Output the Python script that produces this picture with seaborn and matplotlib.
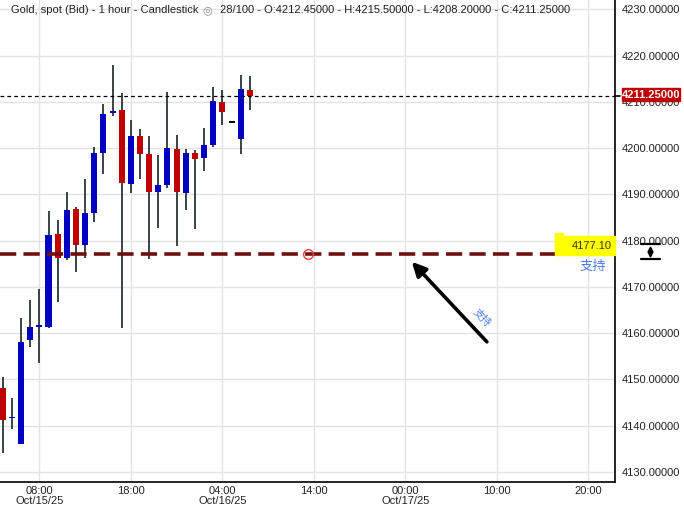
import matplotlib
matplotlib.use("Agg")
import matplotlib.pyplot as plt
import numpy as np
import pandas as pd
import seaborn as sns
from matplotlib.lines import Line2D
from matplotlib.patches import Rectangle

# hourly candles, hour index counted from Oct/15/25 00:00
hours = list(range(4, 32))
opens = [4148.2, 4141.6, 4136.1, 4158.4, 4161.4, 4161.4, 4181.4, 4176.3, 4186.8, 4179.1,
         4186.0, 4199.0, 4207.6, 4208.2, 4192.3, 4202.6, 4198.7, 4190.6, 4192.1, 4199.8,
         4190.3, 4198.9, 4197.9, 4200.7, 4209.9, 4205.4, 4201.9, 4212.45]
highs = [4150.5, 4146.0, 4163.3, 4167.2, 4169.5, 4186.4, 4184.4, 4190.5, 4187.3, 4193.3,
         4200.2, 4209.6, 4217.9, 4211.8, 4206.0, 4204.1, 4202.6, 4198.5, 4212.1, 4202.8,
         4199.8, 4199.6, 4204.4, 4213.2, 4212.5, 4205.4, 4215.8, 4215.50]
lows = [4134.1, 4139.2, 4136.0, 4156.9, 4153.6, 4161.0, 4166.8, 4175.7, 4173.1, 4176.3,
        4183.9, 4194.4, 4207.0, 4161.2, 4190.2, 4193.4, 4176.1, 4182.8, 4191.4, 4178.9,
        4186.5, 4182.6, 4195.1, 4200.3, 4205.0, 4205.4, 4198.6, 4208.20]
closes = [4141.3, 4141.9, 4158.1, 4161.3, 4161.7, 4181.2, 4176.3, 4186.6, 4179.1, 4186.0,
          4199.0, 4207.3, 4208.0, 4192.4, 4202.6, 4198.6, 4190.6, 4192.0, 4200.0, 4190.6,
          4198.9, 4197.7, 4200.6, 4210.2, 4207.8, 4205.4, 4212.7, 4211.25]

tick_hours = [8, 18, 28, 38, 48, 58, 68]
tick_labels = ["08:00\nOct/15/25", "18:00", "04:00\nOct/16/25", "14:00",
               "00:00\nOct/17/25", "10:00", "20:00"]
y_ticks = list(range(4130, 4231, 10))

support_level = 4177.10
last_price = 4211.25
marker_hour = 37.3
arrow_tail = (56.9, 4158.1)
arrow_head = (48.7, 4175.4)

df = pd.DataFrame({"hour": hours, "open": opens, "high": highs,
                   "low": lows, "close": closes})
df["color"] = np.where(df["close"] > df["open"], "#0000c0",
                       np.where(df["close"] < df["open"], "#c00000", "#000000"))
df["bottom"] = df[["open", "close"]].min(axis=1)
df["height"] = (df["close"] - df["open"]).abs().clip(lower=0.35)

sns.set_theme(style="whitegrid")
plt.rcParams["font.family"] = ["Liberation Sans", "Noto Sans CJK SC", "DejaVu Sans"]

fig = plt.figure(figsize=(6.84, 5.07), dpi=100)
W, H = 684, 507
ax = fig.add_axes([0, 25 / H, 615 / W, 482 / H])
ax.set_facecolor("white")

# wicks and bodies
ax.vlines(df["hour"], df["low"], df["high"], color="#2a3535", lw=1.3, zorder=2)
ax.bar(df["hour"], df["height"], bottom=df["bottom"], width=0.66,
       color=df["color"], linewidth=0, zorder=3)

# support line + last price line
ax.axhline(support_level, color="#6e1010", lw=2.6, ls=(0, (4.5, 2)), zorder=4)
ax.axhline(last_price, color="black", lw=0.9, ls=(0, (3, 2.5)), zorder=4)
ax.plot([marker_hour], [support_level], marker="o", ms=7, mfc="none",
        mec="#ff3b3b", mew=1.0, zorder=5)

ax.annotate("", xy=arrow_head, xytext=arrow_tail,
            arrowprops=dict(arrowstyle="-|>,head_length=0.7,head_width=0.35",
                            color="black", lw=2.6, shrinkA=0, shrinkB=0),
            zorder=6)
ax.text(56.3, 4163.2, "支持", color="#4a7cf5", fontsize=7.5, rotation=-47,
        ha="center", va="center", zorder=6)

ax.set_xlim(3.7, 70.9)
ax.set_ylim(4127.8, 4232.0)
ax.set_xticks(tick_hours)
ax.set_xticklabels(tick_labels, fontsize=8, color="#222222", linespacing=0.95)
ax.set_yticks(y_ticks)
ax.set_yticklabels([f"{v:.5f}" for v in y_ticks], fontsize=8, color="#222222")
ax.yaxis.tick_right()
ax.tick_params(axis="both", length=0)
ax.tick_params(axis="y", pad=5)
ax.tick_params(axis="x", pad=3)
ax.grid(True, color="#e3e3e3", lw=1)
for side in ["left", "top"]:
    ax.spines[side].set_visible(False)
for side in ["right", "bottom"]:
    ax.spines[side].set_visible(True)
    ax.spines[side].set_color("black")
    ax.spines[side].set_linewidth(1.2)

# yellow support tag
ax.add_patch(Rectangle((555 / 615, (482 - 255) / 482), 60 / 615, 19 / 482,
                       transform=ax.transAxes, color="#ffff00", zorder=7, clip_on=False))
ax.add_patch(Rectangle((555 / 615, (482 - 236) / 482), 8 / 615, 3 / 482,
                       transform=ax.transAxes, color="#ffff00", zorder=7, clip_on=False))
ax.text(612 / 615, (482 - 246) / 482, "4177.10", transform=ax.transAxes,
        ha="right", va="center", fontsize=8, color="#3a3a10", zorder=8)
ax.text(593 / 615, (482 - 267) / 482, "支持", transform=ax.transAxes,
        ha="center", va="center", fontsize=9.5, color="#4a7cf5", zorder=8)

# red last price tag on the right scale
fig.patches.append(Rectangle((622 / W, 1 - 101 / H), 58 / W, 13 / H,
                             transform=fig.transFigure, color="#c00000", zorder=5))
fig.text(651 / W, 1 - 95 / H, "4211.25000", ha="center", va="center",
         fontsize=8, color="white", fontweight="bold", zorder=6)
fig.add_artist(Line2D([615 / W, 620 / W], [1 - 96 / H, 1 - 96 / H],
                      color="black", lw=1.2))

# scale handle icon
for yy in (244, 259):
    fig.add_artist(Line2D([641 / W, 660 / W], [1 - yy / H, 1 - yy / H],
                          color="black", lw=1.6))
fig.add_artist(Line2D([650 / W], [1 - 249 / H], marker="^", ms=3.5,
                      color="black", lw=0))
fig.add_artist(Line2D([650 / W], [1 - 254 / H], marker="v", ms=3.5,
                      color="black", lw=0))

# header
fig.text(11 / W, 1 - 10 / H, "Gold, spot (Bid) - 1 hour - Candlestick",
         ha="left", va="center", fontsize=8, color="#222222")
fig.text(207 / W, 1 - 10 / H, "◎", ha="center", va="center", fontsize=8,
         color="#888888", family="DejaVu Sans")
fig.text(220 / W, 1 - 10 / H,
         "28/100 - O:4212.45000 - H:4215.50000 - L:4208.20000 - C:4211.25000",
         ha="left", va="center", fontsize=8, color="#222222")

fig.savefig("out.png", dpi=100)
